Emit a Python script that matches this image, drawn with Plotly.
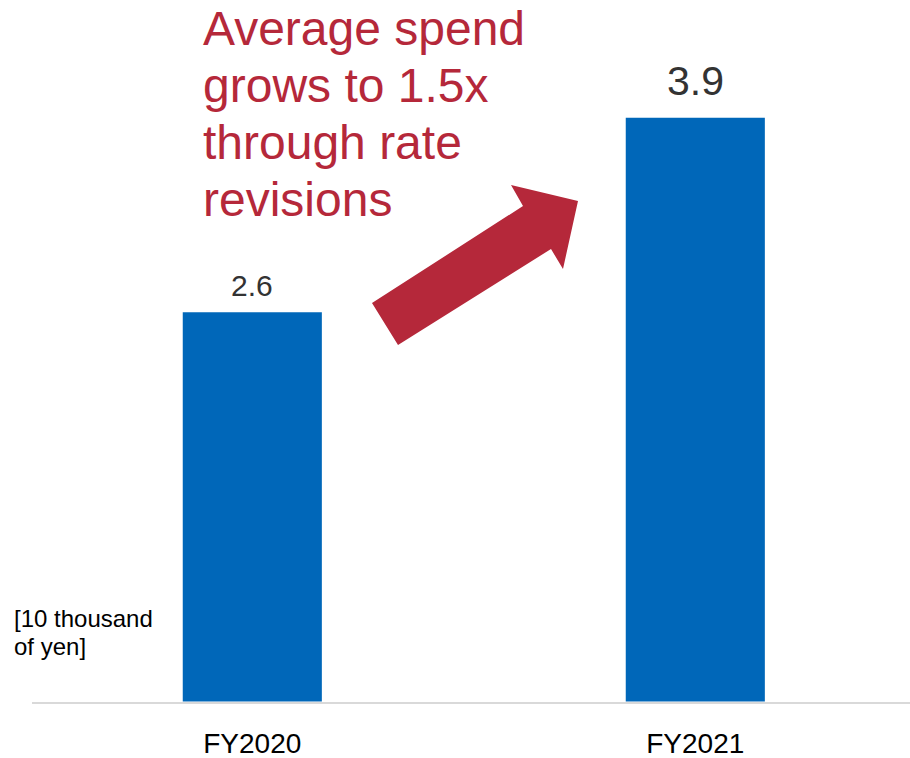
import plotly.graph_objects as go

# Average spend per customer, in units of 10 thousand yen
categories = ["FY2020", "FY2021"]
avg_spend = [2.6, 3.9]
value_font_sizes = [30, 41]

headline_lines = ["Average spend", "grows to 1.5x", "through rate", "revisions"]
unit_lines = ["[10 thousand", "of yen]"]

BAR_COLOR = "#0067b9"
ACCENT = "#b5283a"
FONT = "Liberation Sans, Arial, sans-serif"

W, H = 910, 758
ML, MR, MT, MB = 32, 0, 0, 56
PW, PH = W - ML - MR, H - MT - MB


def px(x):
    """Canvas pixel x -> paper fraction."""
    return (x - ML) / PW


def py(y):
    """Canvas pixel y -> paper fraction."""
    return (H - MB - y) / PH


fig = go.Figure()
fig.add_trace(go.Bar(
    x=categories,
    y=avg_spend,
    width=0.314,
    marker=dict(color=BAR_COLOR, line=dict(width=0)),
    hoverinfo="skip",
))

# value labels above each bar
for cat, val, fs in zip(categories, avg_spend, value_font_sizes):
    fig.add_annotation(
        x=cat, y=val, xref="x", yref="y",
        text=f"{val:.1f}", showarrow=False,
        yanchor="middle", xanchor="center",
        yshift=round(fs * 0.9),
        font=dict(family=FONT, size=fs, color="#333333"),
    )

# headline, one annotation per line for tight leading
for i, line in enumerate(headline_lines):
    baseline = 45 + 57 * i
    fig.add_annotation(
        x=px(201), y=py(baseline - 0.3465 * 48), xref="paper", yref="paper",
        text=line, showarrow=False, xanchor="left", yanchor="middle",
        font=dict(family=FONT, size=48, color=ACCENT),
    )

# unit note
for i, line in enumerate(unit_lines):
    baseline = 627 + 28 * i
    fig.add_annotation(
        x=px(12), y=py(baseline - 0.3465 * 24), xref="paper", yref="paper",
        text=line, showarrow=False, xanchor="left", yanchor="middle",
        font=dict(family=FONT, size=24, color="#000000"),
    )

# block arrow between the bars
arrow_pts = [(372, 303), (523, 206), (511, 185), (578, 201),
             (563, 269), (551, 249), (398, 345)]
path = "M " + " L ".join(f"{px(x):.5f},{py(y):.5f}" for x, y in arrow_pts) + " Z"
fig.add_shape(type="path", path=path, xref="paper", yref="paper",
              fillcolor=ACCENT, line=dict(width=0), layer="above")

span = 443.0  # pixels between category centres
x0 = -(252.3 - ML) / span
fig.update_layout(
    width=W, height=H,
    margin=dict(l=ML, r=MR, t=MT, b=MB, pad=0, autoexpand=False),
    plot_bgcolor="white", paper_bgcolor="white",
    showlegend=False,
    xaxis=dict(
        range=[x0, x0 + PW / span],
        showgrid=False, zeroline=False,
        showline=True, linecolor="#d9d9d9", linewidth=2,
        ticks="", ticklabelstandoff=15, automargin=False,
        tickfont=dict(family=FONT, size=28, color="#000000"),
        fixedrange=True,
    ),
    yaxis=dict(
        range=[-0.003, PH / 149.7 - 0.003],
        visible=False, showgrid=False, zeroline=False,
        automargin=False, fixedrange=True,
    ),
)

fig.write_html("out.html")
